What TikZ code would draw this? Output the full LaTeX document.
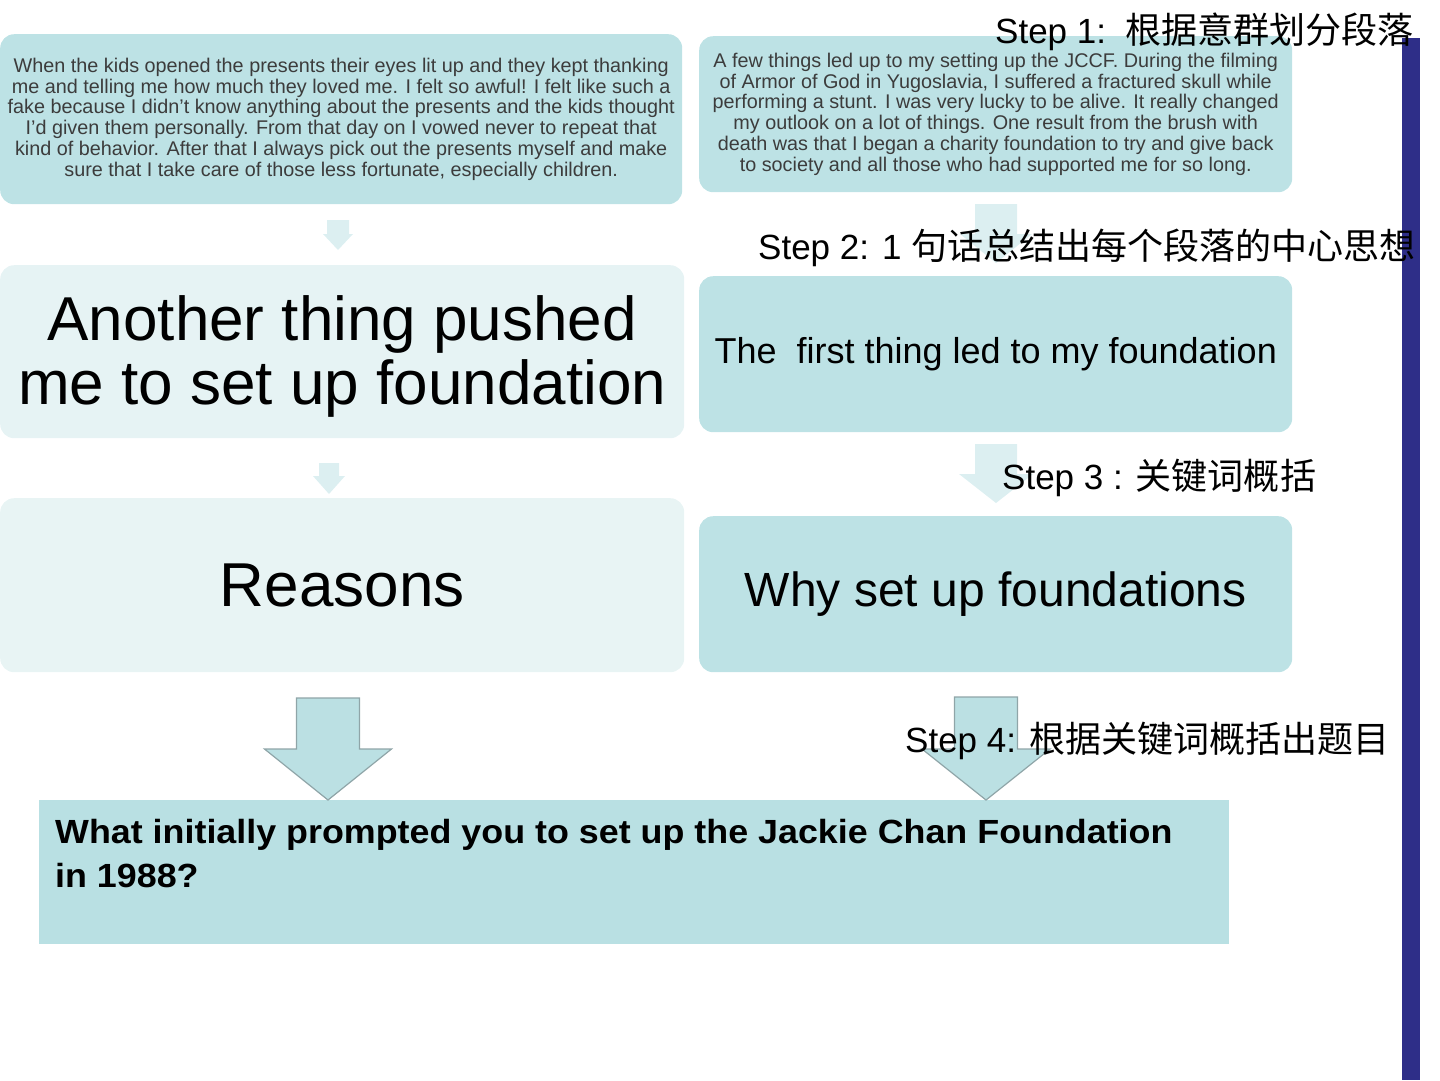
\documentclass[tikz,border=0pt]{standalone}
\usepackage{fontspec}
\setmainfont{Liberation Sans}
\newfontfamily\cjk[Scale=1.03]{Noto Sans CJK SC}
\newfontfamily\qfont[FakeStretch=1.07]{Liberation Sans}
\definecolor{boxteal}{HTML}{BDE2E5}
\definecolor{boxpale}{HTML}{E6F3F4}
\definecolor{boxpaler}{HTML}{E8F4F4}
\definecolor{qteal}{HTML}{B9E0E3}
\definecolor{arrowpale}{HTML}{DCEFF1}
\definecolor{bigarrow}{HTML}{BBE0E3}
\definecolor{arrowline}{HTML}{8FA5A8}
\definecolor{barblue}{HTML}{2E2E88}
\definecolor{paratext}{HTML}{3C3C3C}
\tikzset{
  tbox/.style={rounded corners=14pt, anchor=north west, inner sep=0pt, align=center},
  paratxt/.style={text=paratext, font=\fontsize{19.8}{20.8}\selectfont},
  bigtxt/.style={font=\fontsize{62}{64}\selectfont},
  steptxt/.style={anchor=base west, inner sep=0pt, font=\fontsize{35}{40}\selectfont},
  palearrow/.style={fill=arrowpale},
  bluearrow/.style={fill=bigarrow, draw=arrowline, line width=1.2pt, line join=miter}
}
% #1 style, #2 centre x, #3 top, #4 body half width, #5 head half width, #6 head start y, #7 tip y
\newcommand\blockarrow[7]{%
  \path[#1] ({#2-#4},#3) -- ({#2+#4},#3) -- ({#2+#4},#6) -- ({#2+#5},#6)
    -- (#2,#7) -- ({#2-#5},#6) -- ({#2-#4},#6) -- cycle;}
\begin{document}
\begin{tikzpicture}[x=1pt,y=-1pt]
\useasboundingbox (0,0) rectangle (1440,1080);
% right bar
\fill[barblue] (1402,38) rectangle (1420,1080);
% left column
\node[tbox, fill=boxteal, minimum width=682pt, minimum height=170pt, paratxt] (l1) at (0,34)
 {When the kids opened the presents their eyes lit up and they kept thanking\\
  me and telling me how much they loved me. I felt so awful! I felt like such a\\
  fake because I didn’t know anything about the presents and the kids thought\\
  I’d given them personally. From that day on I vowed never to repeat that\\
  kind of behavior. After that I always pick out the presents myself and make\\
  sure that I take care of those less fortunate, especially children.};
\node[tbox, fill=boxpale, minimum width=684pt, minimum height=173pt] (l2) at (0,265) {};
\node[bigtxt, align=center, inner sep=0pt, yshift=-5pt] (l2t) at (l2.center)
 {Another thing pushed\\me to set up foundation};
\node[tbox, fill=boxpaler, minimum width=684pt, minimum height=174pt, bigtxt] (l3) at (0,498)
 {Reasons};
% right column
\node[tbox, fill=boxteal, minimum width=593pt, minimum height=156pt, paratxt] (r1) at (699,36)
 {A few things led up to my setting up the JCCF. During the filming\\
  of Armor of God in Yugoslavia, I suffered a fractured skull while\\
  performing a stunt. I was very lucky to be alive. It really changed\\
  my outlook on a lot of things. One result from the brush with\\
  death was that I began a charity foundation to try and give back\\
  to society and all those who had supported me for so long.};
\node[tbox, fill=boxteal, minimum width=593pt, minimum height=156pt, font=\fontsize{36}{40}\selectfont] (r2) at (699,276)
 {The\ \ first thing led to my foundation};
\node[tbox, fill=boxteal, minimum width=593pt, minimum height=156pt, font=\fontsize{48}{52}\selectfont] (r3) at (699,516)
 {Why set up foundations};
% question box
\node[anchor=north west, fill=qteal, minimum width=1190pt, minimum height=144pt, inner sep=0pt] (q) at (39,800) {};
\node[anchor=north west, inner sep=0pt, align=left, font=\qfont\bfseries\fontsize{33.5}{44}\selectfont] (qt) at (55,819)
 {What initially prompted you to set up the Jackie Chan Foundation\\in 1988?};
% small arrows
\blockarrow{palearrow}{338}{220}{11}{15}{234}{250}
\blockarrow{palearrow}{329}{463}{10}{16}{476}{494}
\blockarrow{palearrow}{996}{204}{21}{36}{234}{263}
\blockarrow{palearrow}{996}{444}{21}{37}{474}{503}
% big arrows
\blockarrow{bluearrow}{328}{698}{31.5}{63.5}{749}{800}
\blockarrow{bluearrow}{986}{697}{31.5}{64}{749}{800}
% step labels
\node[steptxt] (s1) at (995,43) {Step 1:\ \ {\cjk 根据意群划分段落}};
\node[steptxt] (s2) at (758,259) {Step 2: 1 {\cjk 句话总结出每个段落的中心思想}};
\node[steptxt] (s3) at (1002,489) {Step 3 : {\cjk 关键词概括}};
\node[steptxt] (s4) at (905,752) {Step 4: {\cjk 根据关键词概括出题目}};
\end{tikzpicture}
\end{document}
